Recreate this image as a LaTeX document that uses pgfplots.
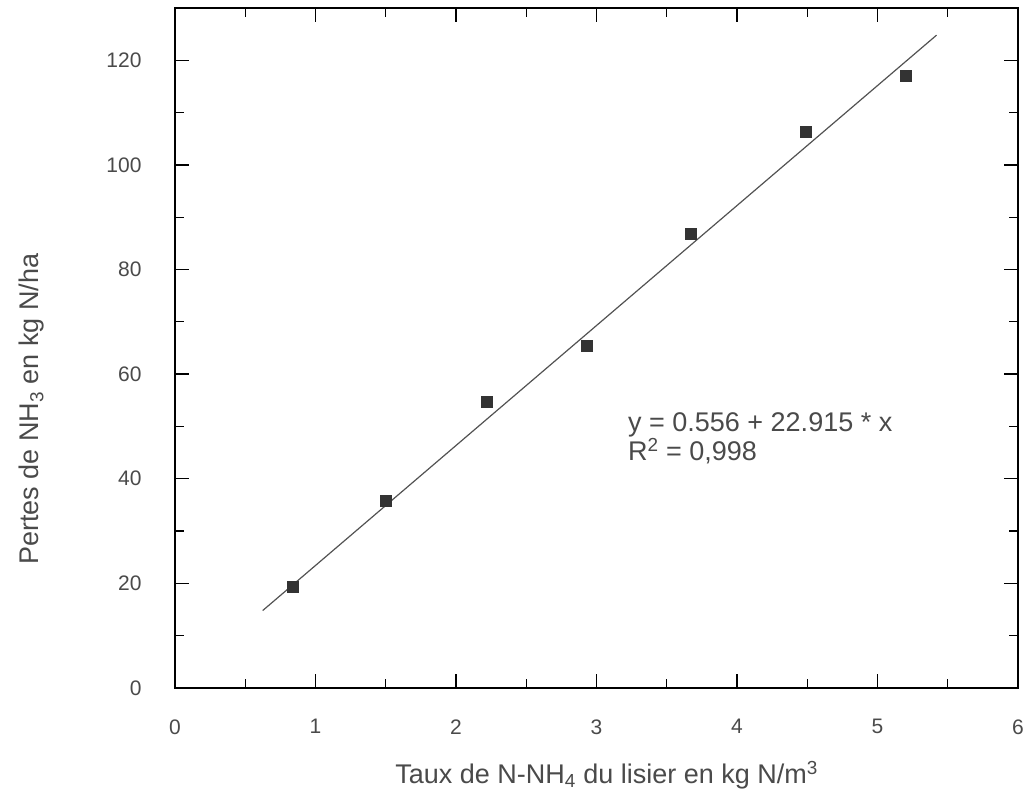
\documentclass[border=0pt]{standalone}
\usepackage{pgfplots}
\pgfplotsset{compat=1.18}
\usepackage{fontspec}
\setmainfont{Liberation Sans}
\definecolor{txt}{HTML}{4A4A4A}
\definecolor{ink}{HTML}{333333}
\begin{document}
\begin{tikzpicture}
\begin{axis}[
    scale only axis,
    width=843pt, height=680pt,
    xmin=0, xmax=6, ymin=0, ymax=130,
    xtick={0,1,...,6},
    ytick={0,20,...,120},
    minor xtick={0.5,1.5,...,5.5},
    minor ytick={10,30,...,130},
    tick align=inside,
    major tick length=14pt,
    minor tick length=9pt,
    axis line style={line width=1.6pt},
    every tick/.style={black, line width=1.3pt},
    /pgf/number format/assume math mode=true,
    ticklabel style={font=\fontsize{21}{25}\selectfont, text=txt},
    xticklabel style={yshift=-28pt},
    yticklabel style={xshift=-30pt},
    label style={font=\fontsize{27}{31}\selectfont, text=txt},
    xlabel={Taux de N-NH\textsubscript{4} du lisier en kg N/m\textsuperscript{3}},
    ylabel={Pertes de NH\textsubscript{3} en kg N/ha},
    xlabel style={at={(axis description cs:0.512,-0.128)}, anchor=center},
    ylabel style={at={(axis description cs:-0.17,0.41)}, anchor=center},
]
% droite de regression
\addplot[ink!85, line width=1.2pt] coordinates {(0.624,14.8) (5.42,124.8)};
% mesures
\addplot[only marks, mark=square*, mark size=5.5pt, ink, mark options={fill=ink}]
coordinates {
  (0.84,19.3) (1.50,35.8) (2.22,54.8) (2.93,65.5)
  (3.67,86.8) (4.49,106.3) (5.20,117.1)
};
\node[anchor=west, align=left, text=txt, font=\fontsize{27}{27}\selectfont]
  at (axis cs:3.2,47.8) {y = 0.556 + 22.915 * x\\R\textsuperscript{2} = 0,998};
\end{axis}
\path (current axis.south west) ++(-175pt,-111pt) rectangle ([shift={(10pt,8pt)}]current axis.north east);
\end{tikzpicture}
\end{document}
